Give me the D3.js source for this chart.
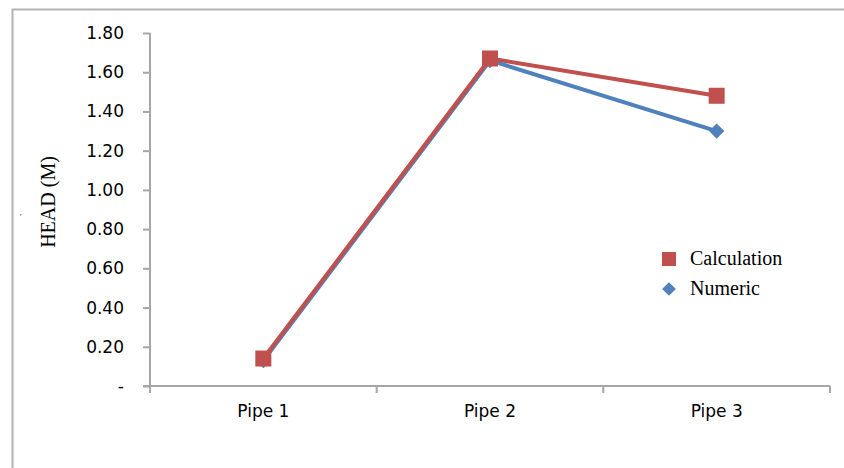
<!DOCTYPE html>
<html>
<head>
<meta charset="utf-8">
<script src="https://cdn.jsdelivr.net/npm/d3@7/dist/d3.min.js"></script>
<style>
  html, body { margin: 0; padding: 0; background: #fff; }
  svg { display: block; }
</style>
</head>
<body>
<div id="chart"></div>
<script>
// head por trecho de tubo: calculo x numerico
const pipes = ["Pipe 1", "Pipe 2", "Pipe 3"];
const calculation = [0.14, 1.67, 1.48];
const numeric = [0.13, 1.66, 1.30];
const yTicks = [0, 0.2, 0.4, 0.6, 0.8, 1.0, 1.2, 1.4, 1.6, 1.8];
const seriesNames = ["Calculation", "Numeric"];

const W = 844, H = 468;
const RED = "#c0504d", BLUE = "#4f81bd", AXIS = "#a6a6a6";

const svg = d3.select("#chart").append("svg").attr("width", W).attr("height", H);

// moldura externa (sai da imagem pela direita e por baixo)
svg.append("path")
  .attr("d", `M12.5,${H + 5} V9.5 H${W + 5}`)
  .attr("fill", "none").attr("stroke", "#b3b3b3").attr("stroke-width", 2);
svg.append("rect").attr("x", 20).attr("y", 214).attr("width", 1.5).attr("height", 1.5).attr("fill", "#999");

const x = d3.scaleBand().domain(pipes).range([150, 830]);
const y = d3.scaleLinear().domain([0, 1.8]).range([386, 33]);
const cx = (p) => x(p) + x.bandwidth() / 2;

// eixo y
const yAxis = svg.append("g").attr("transform", "translate(150,0)")
  .call(d3.axisLeft(y).tickValues(yTicks).tickSize(7).tickPadding(19)
    .tickFormat((d) => (d === 0 ? "-" : d3.format(".2f")(d))));
yAxis.select(".domain").attr("stroke", AXIS).attr("stroke-width", 2).attr("d", "M0,33V393");
yAxis.selectAll(".tick line").attr("stroke", AXIS).attr("stroke-width", 2);
yAxis.selectAll(".tick text").attr("fill", "#000")
  .style("font-family", "'DejaVu Sans', Verdana, sans-serif").style("font-size", "17px");

// eixo x
const xAxis = svg.append("g").attr("transform", "translate(0,386)")
  .call(d3.axisBottom(x).tickSize(0).tickPadding(19));
xAxis.select(".domain").attr("stroke", AXIS).attr("stroke-width", 2).attr("d", "M143,0H830");
xAxis.selectAll(".tick text").attr("fill", "#000")
  .style("font-family", "'DejaVu Sans', Verdana, sans-serif").style("font-size", "17px");
const edges = pipes.map((p) => x(p) + x.bandwidth());
svg.selectAll("line.xtick").data(edges).enter().append("line")
  .attr("class", "xtick")
  .attr("x1", (d) => d).attr("x2", (d) => d)
  .attr("y1", 386).attr("y2", 393)
  .attr("stroke", AXIS).attr("stroke-width", 2);

// titulo do eixo y
svg.append("text")
  .attr("transform", "translate(55,202) rotate(-90)")
  .attr("text-anchor", "middle")
  .style("font-family", "'Liberation Serif', 'Times New Roman', serif").style("font-size", "20px")
  .text("HEAD (M)");

const line = d3.line().x((d, i) => cx(pipes[i])).y((d) => y(d));

// numerico (azul, atras)
svg.append("path").datum(numeric).attr("d", line)
  .attr("fill", "none").attr("stroke", BLUE).attr("stroke-width", 4);
svg.selectAll("path.dia").data(numeric).enter().append("path")
  .attr("class", "dia")
  .attr("d", d3.symbol(d3.symbolDiamond2, 150))
  .attr("transform", (d, i) => `translate(${cx(pipes[i])},${y(d)})`)
  .attr("fill", BLUE);

// calculo (vermelho, na frente)
svg.append("path").datum(calculation).attr("d", line)
  .attr("fill", "none").attr("stroke", RED).attr("stroke-width", 4);
svg.selectAll("rect.sq").data(calculation).enter().append("rect")
  .attr("class", "sq")
  .attr("x", (d, i) => cx(pipes[i]) - 8).attr("y", (d) => y(d) - 8)
  .attr("width", 16).attr("height", 16)
  .attr("fill", RED);

// legenda
const leg = svg.append("g").attr("transform", "translate(669,259)");
leg.append("rect").attr("x", -7).attr("y", -7).attr("width", 14).attr("height", 14).attr("fill", RED);
leg.append("path").attr("d", d3.symbol(d3.symbolDiamond2, 120))
  .attr("transform", "translate(0,30)").attr("fill", BLUE);
leg.selectAll("text").data(seriesNames).enter().append("text")
  .attr("x", 21).attr("y", (d, i) => i * 30 + 6)
  .style("font-family", "'Liberation Serif', 'Times New Roman', serif").style("font-size", "20px")
  .text((d) => d);
</script>
</body>
</html>
